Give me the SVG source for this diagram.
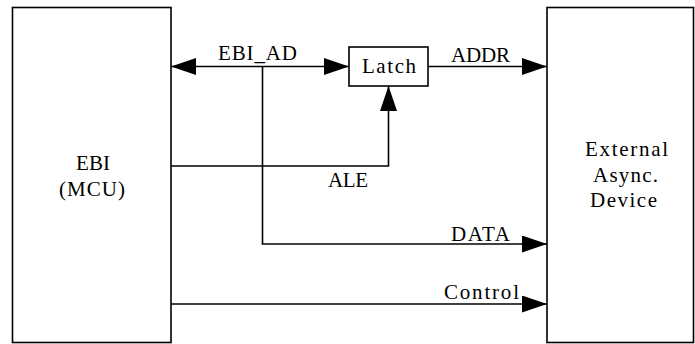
<svg xmlns="http://www.w3.org/2000/svg" width="695" height="344" viewBox="0 0 695 344">
  <style>
    .box { fill: #ffffff; stroke: #000000; stroke-width: 1.6; }
    .wire { fill: none; stroke: #000000; stroke-width: 1.6; }
    .c { text-anchor: middle; }
  </style>
  <defs>
    <marker id="arr" markerUnits="userSpaceOnUse" markerWidth="25" markerHeight="18" refX="25" refY="8.5" orient="auto-start-reverse">
      <path d="M0,0 L25,8.5 L0,17 Z" fill="#000000"/>
    </marker>
  </defs>
  <rect width="695" height="344" fill="#ffffff"/>

  <g id="ebi" font-family="Liberation Serif" font-size="21" fill="#000000">
    <rect class="box" x="12.5" y="7.5" width="158.5" height="335"/>
    <text class="c" x="93" y="170">EBI</text>
    <text class="c" x="92" y="196" textLength="66" lengthAdjust="spacing">(MCU)</text>
  </g>

  <g id="latch" font-family="Liberation Serif" font-size="21" fill="#000000">
    <rect class="box" x="349" y="47" width="79" height="39"/>
    <text x="362" y="73" textLength="54" lengthAdjust="spacing">Latch</text>
  </g>

  <g id="external" font-family="Liberation Serif" font-size="21" fill="#000000">
    <rect class="box" x="547" y="7.5" width="146.5" height="335"/>
    <text x="585" y="156" textLength="83" lengthAdjust="spacing">External</text>
    <text x="593" y="181.5" textLength="65" lengthAdjust="spacing">Async.</text>
    <text x="590" y="207" textLength="67" lengthAdjust="spacing">Device</text>
  </g>

  <g id="connectors" font-family="Liberation Serif" font-size="21" fill="#000000">
    <line class="wire" x1="171" y1="66.5" x2="349" y2="66.5" marker-start="url(#arr)" marker-end="url(#arr)"/>
    <line class="wire" x1="262.5" y1="66.5" x2="262.5" y2="244"/>
    <line class="wire" x1="428" y1="66.5" x2="547" y2="66.5" marker-end="url(#arr)"/>
    <polyline class="wire" points="171,166 388.5,166 388.5,86" marker-end="url(#arr)"/>
    <line class="wire" x1="261.7" y1="244" x2="547" y2="244" marker-end="url(#arr)"/>
    <line class="wire" x1="171" y1="304" x2="547" y2="304" marker-end="url(#arr)"/>
    <text x="218" y="60" textLength="79" lengthAdjust="spacing">EBI_AD</text>
    <text x="451" y="62" textLength="59" lengthAdjust="spacing">ADDR</text>
    <text x="328" y="187" textLength="40" lengthAdjust="spacing">ALE</text>
    <text x="451" y="241" textLength="59" lengthAdjust="spacing">DATA</text>
    <text x="444" y="299" textLength="75" lengthAdjust="spacing">Control</text>
  </g>
</svg>
